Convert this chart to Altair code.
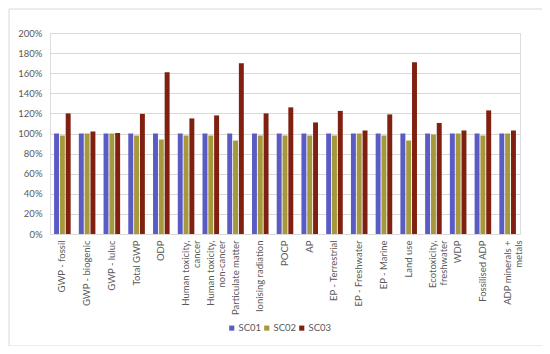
import altair as alt
import pandas as pd

categories = [
    "GWP - fossil", "GWP - biogenic", "GWP - luluc", "Total GWP", "ODP",
    "Human toxicity,\ncancer", "Human toxicity,\nnon-cancer", "Particulate matter",
    "Ionising radiation", "POCP", "AP", "EP - Terrestrial", "EP - Freshwater",
    "EP - Marine", "Land use", "Ecotoxicity,\nfreshwater", "WDP", "Fossilised ADP",
    "ADP minerals +\nmetals",
]
sc01 = [100] * 19
sc02 = [98, 100, 100, 98, 94, 98, 98, 93, 98, 98, 98, 98, 100, 98, 93, 99, 100, 98, 100]
sc03 = [120, 102, 100.5, 119.5, 161, 115, 118, 170, 120, 126, 111, 122.5, 103, 119, 171, 110.5, 103, 123, 103]
series = ["SC01", "SC02", "SC03"]
colors = ["#5B5BC4", "#A6983C", "#7F2010"]

rows = []
for i, c in enumerate(categories):
    for s, vals in zip(series, [sc01, sc02, sc03]):
        rows.append({"cat": c, "series": s, "value": vals[i] / 100})
df = pd.DataFrame(rows)

FONT = "Lato"
LAB = "#595959"

bars = alt.Chart(df).mark_bar().encode(
    x=alt.X("cat:N", sort=categories, title=None,
            scale=alt.Scale(paddingInner=0.33, paddingOuter=0.165),
            axis=alt.Axis(labelAngle=-90, labelAlign="right", labelBaseline="middle",
                          labelExpr="split(datum.label, '\\n')", labelFont=FONT,
                          labelFontSize=9.5, labelColor=LAB, ticks=False, domain=False,
                          labelPadding=6, labelLimit=200, grid=False, labelLineHeight=11)),
    xOffset=alt.XOffset("series:N", sort=series, scale=alt.Scale(paddingInner=0.15)),
    y=alt.Y("value:Q", title=None,
            scale=alt.Scale(domain=[0, 2]),
            axis=alt.Axis(format=".0%", values=[i / 10 for i in range(0, 21, 2)],
                          labelFont=FONT, labelFontSize=9.5, labelColor=LAB,
                          ticks=False, domain=False, gridColor="#D9D9D9",
                          labelPadding=8)),
    color=alt.Color("series:N", sort=series,
                    scale=alt.Scale(domain=series, range=colors),
                    legend=alt.Legend(title=None, orient="none", direction="horizontal",
                                      legendX=177, legendY=290, symbolType="square",
                                      symbolSize=26, labelFont=FONT, labelFontSize=9.5,
                                      labelColor=LAB, columnPadding=0, labelOffset=2,
                                      symbolStrokeWidth=0)),
)

frame = alt.Chart(pd.DataFrame({"a": [0]})).mark_rect(
    fill=None, stroke="#D9D9D9", strokeWidth=1
).encode(x=alt.value(-41), x2=alt.value(495), y=alt.value(-24), y2=alt.value(313))

chart = alt.layer(bars, frame).properties(
    width=470, height=201,
    autosize=alt.AutoSizeParams(type="none"),
    padding={"left": 42, "top": 25, "right": 22, "bottom": 112},
).configure_view(stroke=None).configure(background="white")

chart.save("out.html", embed_options={"renderer": "svg", "actions": False})
